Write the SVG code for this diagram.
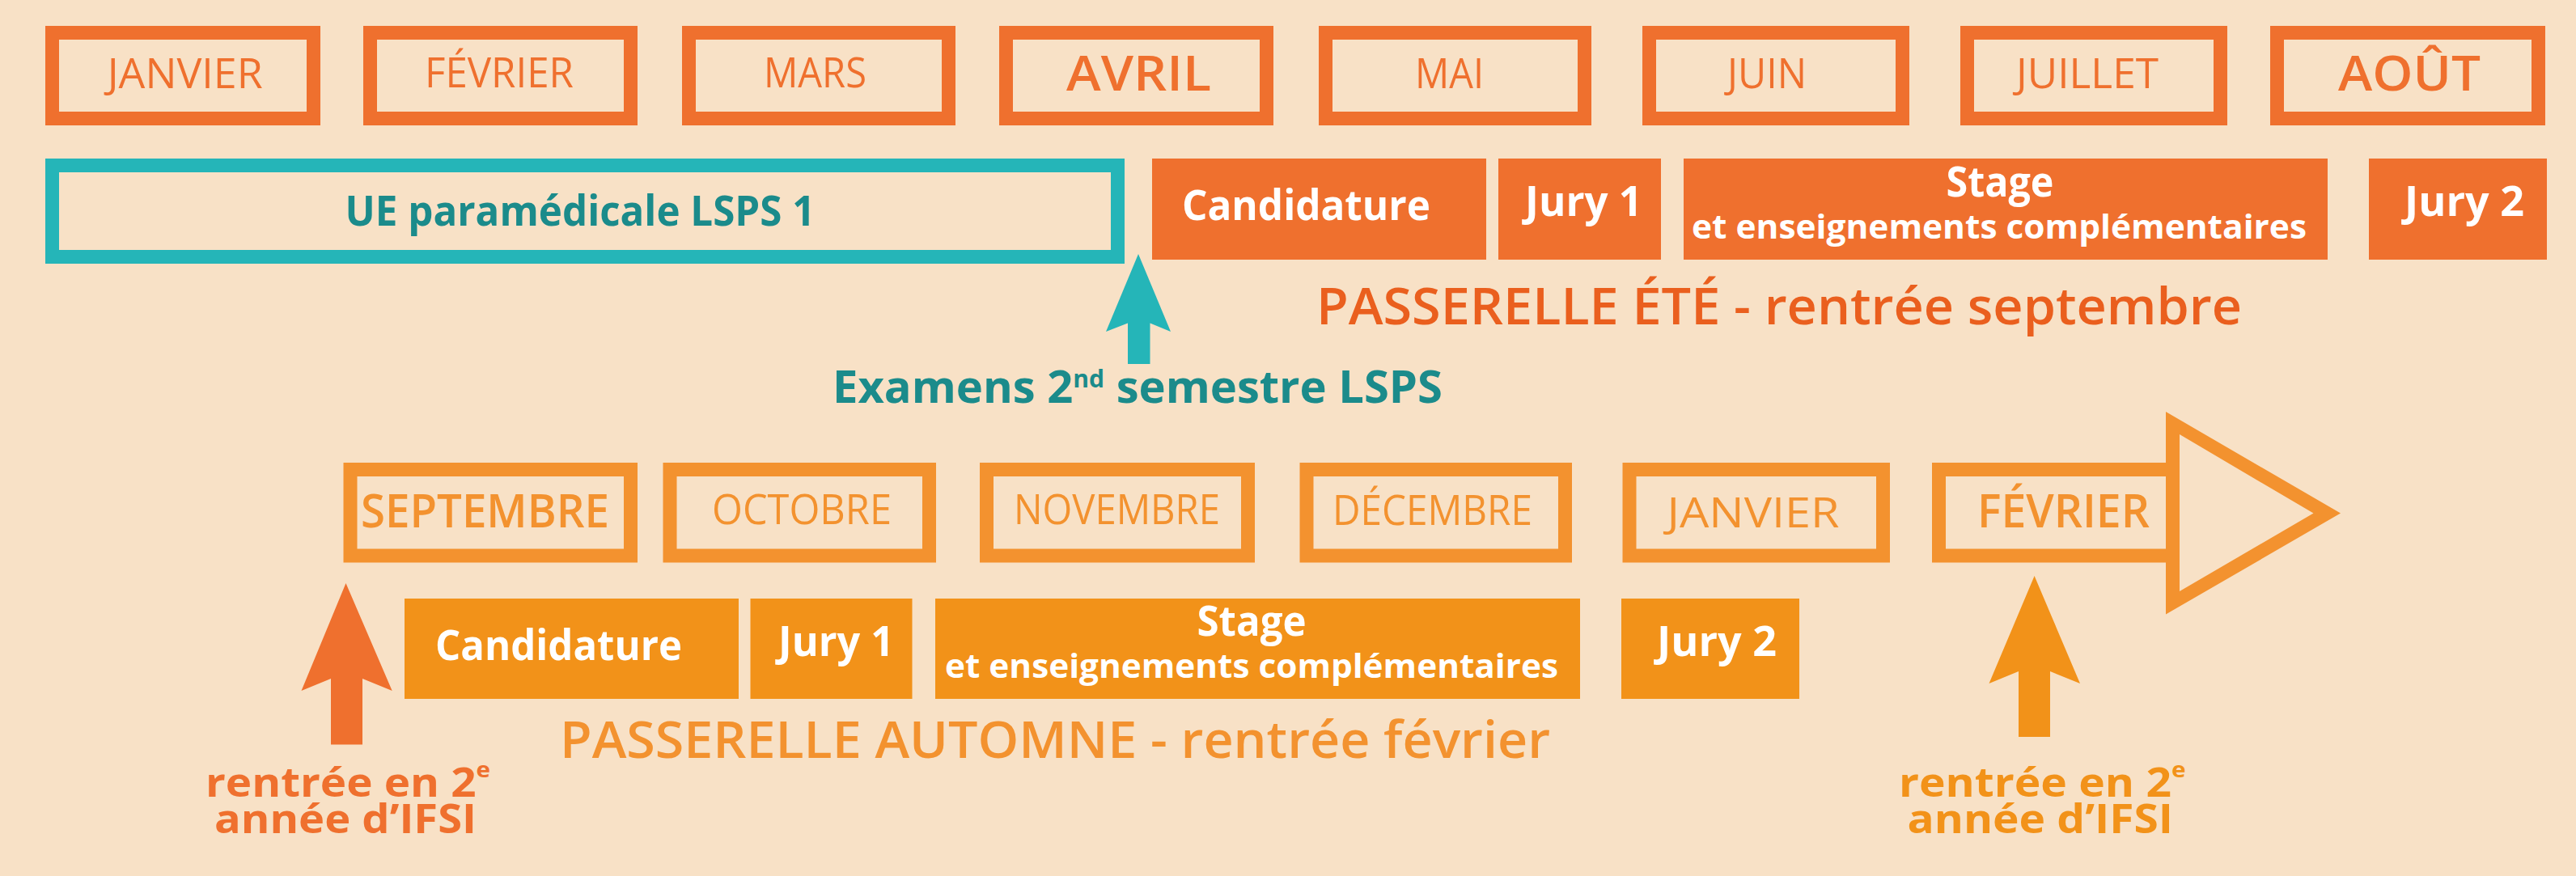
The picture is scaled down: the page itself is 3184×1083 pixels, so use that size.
<svg xmlns="http://www.w3.org/2000/svg" width="3184" height="1083" viewBox="0 0 3184 1083">
<style>
  text { font-family: "Open Sans", "Noto Sans", "Liberation Sans", sans-serif; }
  .mt { fill: none; stroke: #EF702E; stroke-width: 17; }
  .mb { fill: none; stroke: #F3922F; stroke-width: 17; }
  .tt { fill: #EF702E; font-size: 51px; text-anchor: middle; }
  .ttb { fill: #EF702E; font-size: 60px; font-weight: 600; text-anchor: middle; }
  .bt { fill: #F3922F; font-size: 51px; text-anchor: middle; }
  .btb { fill: #F3922F; font-size: 57px; font-weight: 600; text-anchor: middle; }
  .ft { fill: #EF702E; }
  .fb { fill: #F29219; }
  .wt { fill: #FFFFFF; font-size: 52px; font-weight: 700; text-anchor: middle; }
  .ws { fill: #FFFFFF; font-size: 42px; font-weight: 700; text-anchor: middle; }
  .teal { fill: #25B5B8; }
  .tealtxt { fill: #1B8B8B; font-weight: 700; }
  .pass { font-size: 63px; font-weight: 600; }
  .ent { font-size: 50px; font-weight: 700; }
</style>
<rect x="0" y="0" width="3184" height="1083" fill="#F8E1C6"/>

<!-- Top months -->
<g id="m-janvier"><rect class="mt" x="64.5" y="40.5" width="323" height="106"/><text class="tt" x="228.7" y="109" textLength="192" lengthAdjust="spacingAndGlyphs">JANVIER</text></g>
<g id="m-fevrier"><rect class="mt" x="457.5" y="40.5" width="322" height="106"/><text class="tt" x="617" y="108" textLength="184" lengthAdjust="spacingAndGlyphs">FÉVRIER</text></g>
<g id="m-mars"><rect class="mt" x="851.5" y="40.5" width="321" height="106"/><text class="tt" x="1007.5" y="108" textLength="127" lengthAdjust="spacingAndGlyphs">MARS</text></g>
<g id="m-avril"><rect class="mt" x="1243.5" y="40.5" width="322" height="106"/><text class="ttb" x="1407.5" y="112" textLength="179" lengthAdjust="spacingAndGlyphs">AVRIL</text></g>
<g id="m-mai"><rect class="mt" x="1638.5" y="40.5" width="320" height="106"/><text class="tt" x="1791.5" y="109" textLength="85" lengthAdjust="spacingAndGlyphs">MAI</text></g>
<g id="m-juin"><rect class="mt" x="2038.5" y="40.5" width="313" height="106"/><text class="tt" x="2184" y="109" textLength="98" lengthAdjust="spacingAndGlyphs">JUIN</text></g>
<g id="m-juillet"><rect class="mt" x="2431.5" y="40.5" width="313" height="106"/><text class="tt" x="2580" y="109" textLength="176" lengthAdjust="spacingAndGlyphs">JUILLET</text></g>
<g id="m-aout"><rect class="mt" x="2814.5" y="40.5" width="323" height="106"/><text class="ttb" x="2978" y="112" textLength="176" lengthAdjust="spacingAndGlyphs">AOÛT</text></g>

<!-- Summer row -->
<g id="ue-lsps"><rect x="64.5" y="204.5" width="1317" height="113" fill="none" stroke="#25B5B8" stroke-width="17"/><text class="tealtxt" x="717" y="279" font-size="52" text-anchor="middle" textLength="581" lengthAdjust="spacingAndGlyphs">UE paramédicale LSPS 1</text></g>
<g id="e-candidature"><rect class="ft" x="1424" y="196" width="413" height="125"/><text class="wt" x="1614.5" y="272" textLength="307" lengthAdjust="spacingAndGlyphs">Candidature</text></g>
<g id="e-jury1"><rect class="ft" x="1852" y="196" width="201" height="125"/><text class="wt" x="1957.5" y="267" textLength="145" lengthAdjust="spacingAndGlyphs">Jury 1</text></g>
<g id="e-stage"><rect class="ft" x="2081" y="196" width="796" height="125"/><text class="wt" x="2472" y="243" textLength="133" lengthAdjust="spacingAndGlyphs">Stage</text><text class="ws" x="2471" y="294.5" textLength="760" lengthAdjust="spacingAndGlyphs">et enseignements complémentaires</text></g>
<g id="e-jury2"><rect class="ft" x="2928" y="196" width="220" height="125"/><text class="wt" x="3046" y="267" textLength="148" lengthAdjust="spacingAndGlyphs">Jury 2</text></g>
<g id="t-passerelle-ete"><text class="pass" x="1627" y="401" fill="#EA5F1E" textLength="1144" lengthAdjust="spacingAndGlyphs">PASSERELLE ÉTÉ - rentrée septembre</text></g>
<g id="t-examens"><text class="tealtxt" x="1029" y="498" font-size="56" textLength="754" lengthAdjust="spacingAndGlyphs">Examens 2<tspan font-size="30" dy="-19">nd</tspan><tspan dy="19"> semestre LSPS</tspan></text></g>

<!-- Bottom months -->
<g id="m-septembre"><rect class="mb" x="433" y="580.5" width="346.5" height="106.5"/><text class="btb" x="599.5" y="652" textLength="307" lengthAdjust="spacingAndGlyphs">SEPTEMBRE</text></g>
<g id="m-octobre"><rect class="mb" x="828" y="580.5" width="320.5" height="106.5"/><text class="bt" x="991" y="648" textLength="222" lengthAdjust="spacingAndGlyphs">OCTOBRE</text></g>
<g id="m-novembre"><rect class="mb" x="1219.5" y="580.5" width="323" height="106.5"/><text class="bt" x="1380.5" y="648" textLength="255" lengthAdjust="spacingAndGlyphs">NOVEMBRE</text></g>
<g id="m-decembre"><rect class="mb" x="1615" y="580.5" width="319.5" height="106.5"/><text class="bt" x="1770.5" y="649" textLength="247" lengthAdjust="spacingAndGlyphs">DÉCEMBRE</text></g>
<g id="m-janvier2"><rect class="mb" x="2014" y="580.5" width="313.5" height="106.5"/><text class="bt" x="2167" y="652" textLength="213" lengthAdjust="spacingAndGlyphs">JANVIER</text></g>
<g id="m-fevrier2"><rect class="mb" x="2396.5" y="580.5" width="289" height="106.5"/><path fill="#F3922F" fill-rule="evenodd" d="M2677,509 L2893,634.6 L2677,759.5 Z M2694,537 L2859.5,634.6 L2694,731 Z"/><text class="btb" x="2550.5" y="652" textLength="213" lengthAdjust="spacingAndGlyphs">FÉVRIER</text></g>

<!-- Autumn row -->
<g id="a-candidature"><rect class="fb" x="500" y="740" width="413" height="124"/><text class="wt" x="690.5" y="816" textLength="305" lengthAdjust="spacingAndGlyphs">Candidature</text></g>
<g id="a-jury1"><rect class="fb" x="927.5" y="740" width="200" height="124"/><text class="wt" x="1033.5" y="811" textLength="143" lengthAdjust="spacingAndGlyphs">Jury 1</text></g>
<g id="a-stage"><rect class="fb" x="1156" y="740" width="797" height="124"/><text class="wt" x="1547" y="786" textLength="135" lengthAdjust="spacingAndGlyphs">Stage</text><text class="ws" x="1547" y="838" textLength="758" lengthAdjust="spacingAndGlyphs">et enseignements complémentaires</text></g>
<g id="a-jury2"><rect class="fb" x="2004" y="740" width="220" height="124"/><text class="wt" x="2122" y="811" textLength="148" lengthAdjust="spacingAndGlyphs">Jury 2</text></g>
<g id="t-passerelle-automne"><text class="pass" x="692" y="937" fill="#F3922F" textLength="1224" lengthAdjust="spacingAndGlyphs">PASSERELLE AUTOMNE - rentrée février</text></g>

<!-- Arrows -->
<g id="connectors">
  <polygon class="teal" points="1407,314 1447,410 1421.5,399.5 1421.5,450 1394,450 1394,399.5 1367,410"/>
  <polygon class="ft" points="427.5,721 484.7,854 448,839 448,920.5 409,920.5 409,839 372.5,854"/>
  <polygon class="fb" points="2514.6,712 2571,845 2534,830 2534,911 2495,911 2495,830 2458.5,845"/>
</g>

<g id="t-rentree-sept">
  <text class="ent ft" x="254" y="985" textLength="352" lengthAdjust="spacingAndGlyphs">rentrée en 2<tspan font-size="27" dy="-24">e</tspan></text>
  <text class="ent ft" x="265" y="1030" textLength="324" lengthAdjust="spacingAndGlyphs">année d’IFSI</text>
</g>
<g id="t-rentree-fev">
  <text class="ent fb" x="2347" y="985" textLength="354.5" lengthAdjust="spacingAndGlyphs">rentrée en 2<tspan font-size="27" dy="-24">e</tspan></text>
  <text class="ent fb" x="2357.5" y="1030" textLength="328.5" lengthAdjust="spacingAndGlyphs">année d’IFSI</text>
</g>
</svg>
